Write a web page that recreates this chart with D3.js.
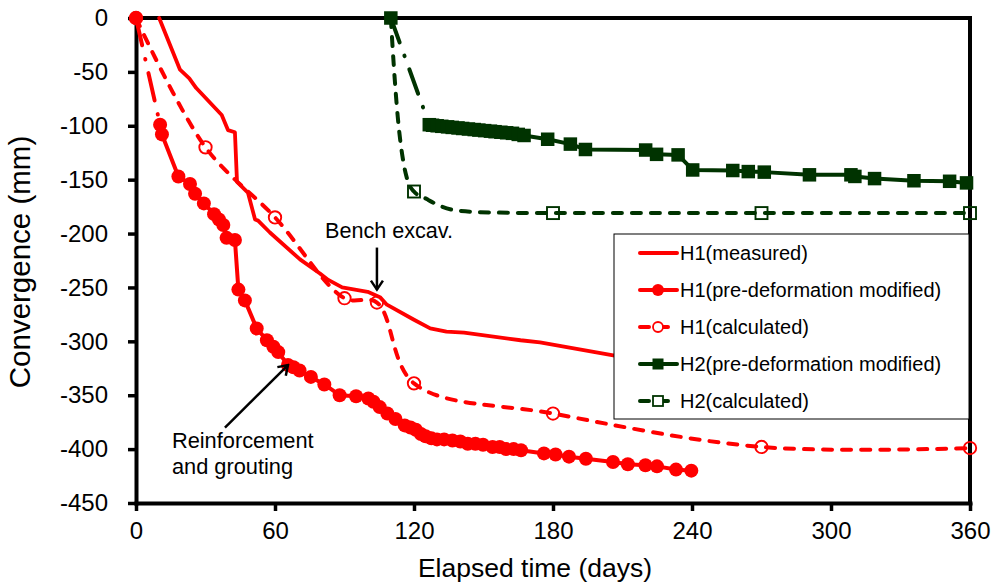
<!doctype html>
<html>
<head>
<meta charset="utf-8">
<script src="https://cdnjs.cloudflare.com/ajax/libs/d3/7.8.5/d3.min.js"></script>
<style>
  body { margin: 0; background: #fff; }
  text { font-family: Arial, "Liberation Sans", sans-serif; }
</style>
</head>
<body>
<svg id="chart" width="995" height="587"></svg>
<script>
// axis ticks
var xTicks = [0, 60, 120, 180, 240, 300, 360];
var yTicks = [0, -50, -100, -150, -200, -250, -300, -350, -400, -450];

// [elapsed day, convergence mm]
var h1Measured = [[10,0],[19,-48],[23,-56],[26,-65],[37,-90],[39.7,-104],[42.7,-106],[43.6,-152],
  [48.3,-162],[51.4,-187],[52.7,-188],[57.8,-199],[70.8,-224],[79.4,-237],[83,-243],[89,-250],
  [100,-254],[105.3,-259],[108.3,-266],[120,-280],[127,-288],[134,-291],[141.6,-292],[166,-299],
  [174.4,-301],[206,-313],[215,-316]];

var h1PreDef = [[0,0],[10.4,-99],[11.2,-108],[18.3,-147],[23.3,-154],[25.5,-163],[29.3,-172],
  [33.7,-182],[35.8,-187],[37.7,-192],[39.1,-204],[42.7,-206],[44.2,-252],[47,-262],[52.1,-288],
  [56.5,-299],[59.3,-305],[61.4,-310],[65.6,-322],[68,-324],[70.6,-327],[75.5,-333],[81.3,-340],
  [87.9,-350],[95,-351],[100.3,-353],[102.5,-356],[105.2,-361],[108.5,-367],[112,-372],[116,-378],
  [118.5,-380],[120.8,-382],[123,-386],[125,-388],[127.5,-390],[129.9,-391],[133,-391],[136.6,-392],
  [140,-393],[143.2,-395],[146.5,-395],[149.8,-396],[153.9,-398],[157,-398],[159.7,-400],[163,-400],
  [166.2,-401],[176.1,-404],[181.1,-405],[186.9,-407],[194.2,-409],[205.9,-412],[212.3,-414],
  [219.9,-415],[224.9,-416],[233.1,-419],[239.7,-420]];

var h1Calc = [[0,0],[30,-120],[60,-185],[90,-260],[104,-264],[120,-339],[180,-367],[270,-398],[360,-399]];

var h2PreDef = [[110,0],[126.6,-99],[128,-99.5],[130,-100],[132,-100.5],[134.5,-101],[136.5,-101.5],
  [139,-102],[141,-102.5],[143.5,-103],[146,-103.5],[148,-104],[150.5,-104.5],[153,-105],[155,-105.5],
  [157.5,-106],[160,-106.5],[162.5,-107],[165,-108],[167.5,-109],[177.7,-112.5],[187.5,-117],
  [194,-122],[220,-122.5],[224.7,-126.5],[234,-127],[240.3,-141],[257.6,-141.5],[264.3,-142.5],
  [271.2,-143],[290.7,-145.5],[308.6,-145.5],[310.3,-147],[318.8,-149],[335.8,-151],[351.2,-151.5],
  [358.5,-153]];

// calculated H2 curve (marker only on h2CalcMarked)
var h2Calc = [[110,0],[111.3,-45],[113,-92],[115.7,-137],[118,-155],[120,-161],[125.5,-168],
  [132,-175],[140,-179],[155,-180.5],[180,-181],[270,-181],[360,-181]];
var h2CalcMarked = [[120,-161],[180,-181],[270,-181],[360,-181]];

var legendNames = ["H1(measured)", "H1(pre-deformation modified)", "H1(calculated)",
  "H2(pre-deformation modified)", "H2(calculated)"];

var red = "#ff0000", green = "#003300";

var svg = d3.select("#chart");
var x = d3.scaleLinear().domain([0, 360]).range([136, 970]);
var y = d3.scaleLinear().domain([-450, 0]).range([503, 18]);

// plot frame (top + right)
svg.append("path")
  .attr("d", "M" + x(0) + "," + y(0) + "H" + x(360) + "V" + y(-450))
  .attr("fill", "none").attr("stroke", "#000").attr("stroke-width", 4)
  .attr("stroke-linecap", "square");

// axes
var gx = svg.append("g")
  .attr("transform", "translate(0," + y(-450) + ")")
  .call(d3.axisBottom(x).tickValues(xTicks).tickSize(8).tickSizeOuter(0).tickPadding(11)
    .tickFormat(function(d) { return String(d); }));
var gy = svg.append("g")
  .attr("transform", "translate(" + x(0) + ",0)")
  .call(d3.axisLeft(y).tickValues(yTicks).tickSize(8).tickSizeOuter(0).tickPadding(20)
    .tickFormat(function(d) { return String(d); }));
[gx, gy].forEach(function(g) {
  g.attr("font-family", "Arial, 'Liberation Sans', sans-serif").attr("font-size", 24);
  g.select(".domain").attr("stroke-width", 4).attr("stroke-linecap", "square");
  g.selectAll(".tick line").attr("stroke-width", 3.5);
  g.selectAll(".tick text").attr("fill", "#000");
});

svg.append("text").attr("x", 535).attr("y", 577).attr("text-anchor", "middle")
  .attr("font-size", 26.5).text("Elapsed time (days)");
svg.append("text").attr("transform", "translate(30,262) rotate(-90)").attr("text-anchor", "middle")
  .attr("font-size", 29.5).text("Convergence (mm)");

var straight = d3.line().x(function(d) { return x(d[0]); }).y(function(d) { return y(d[1]); });
var smooth = d3.line().x(function(d) { return x(d[0]); }).y(function(d) { return y(d[1]); })
  .curve(d3.curveCatmullRom.alpha(0.5));
var smoothMono = d3.line().x(function(d) { return x(d[0]); }).y(function(d) { return y(d[1]); })
  .curve(d3.curveMonotoneX);

function drawLine(data, gen, color, width, dash) {
  svg.append("path").datum(data).attr("d", gen)
    .attr("fill", "none").attr("stroke", color).attr("stroke-width", width)
    .attr("stroke-linejoin", "round").attr("stroke-linecap", "round")
    .attr("stroke-dasharray", dash || null);
}

// lines
drawLine(h1Measured, straight, red, 3.8);
drawLine(h1PreDef.slice(0, 2), straight, red, 4, "28,14,0.5,14");
drawLine(h1PreDef.slice(1), straight, red, 4);
drawLine(h1Calc, smooth, red, 4, "9,10");
drawLine(h2PreDef.slice(0, 2), straight, green, 4, "26,14,0.5,14");
drawLine(h2PreDef.slice(1), straight, green, 4);
drawLine(h2Calc, smoothMono, green, 4, "9,10");

// markers
function circles(data, r, color, filled) {
  svg.append("g").selectAll("circle").data(data).enter().append("circle")
    .attr("cx", function(d) { return x(d[0]); }).attr("cy", function(d) { return y(d[1]); })
    .attr("r", r).attr("fill", filled ? color : "none")
    .attr("stroke", color).attr("stroke-width", filled ? 0 : 1.9);
}
function squares(data, s, color, filled) {
  svg.append("g").selectAll("rect").data(data).enter().append("rect")
    .attr("x", function(d) { return x(d[0]) - s / 2; }).attr("y", function(d) { return y(d[1]) - s / 2; })
    .attr("width", s).attr("height", s).attr("fill", filled ? color : "none")
    .attr("stroke", color).attr("stroke-width", filled ? 0 : 1.9);
}
circles(h1PreDef, 7, red, true);
circles(h1Calc, 6.2, red, false);
squares(h2PreDef, 13.5, green, true);
squares(h2CalcMarked, 12, green, false);

// annotations
svg.append("defs").append("marker").attr("id", "arrow")
  .attr("viewBox", "-12 -8 14 16").attr("refX", 0).attr("refY", 0)
  .attr("markerWidth", 14).attr("markerHeight", 16).attr("markerUnits", "userSpaceOnUse")
  .attr("orient", "auto")
  .append("path").attr("d", "M-9,-6L0,0L-9,6").attr("fill", "none")
  .attr("stroke", "#000").attr("stroke-width", 2.5);

svg.append("line").attr("x1", x(104)).attr("y1", y(-213)).attr("x2", x(104)).attr("y2", y(-252))
  .attr("stroke", "#000").attr("stroke-width", 2.5).attr("marker-end", "url(#arrow)");
svg.append("text").attr("x", x(81.6)).attr("y", y(-204)).attr("font-size", 21.6).text("Bench excav.");

svg.append("line").attr("x1", x(38.4)).attr("y1", y(-380)).attr("x2", x(65.6)).attr("y2", y(-322))
  .attr("stroke", "#000").attr("stroke-width", 2.5).attr("marker-end", "url(#arrow)");
svg.append("text").attr("x", x(15.5)).attr("y", y(-399)).attr("font-size", 21.8).text("Reinforcement");
svg.append("text").attr("x", x(15.5)).attr("y", y(-423)).attr("font-size", 21.8).text("and grouting");

// legend
var lg = svg.append("g");
lg.append("rect").attr("x", 614).attr("y", 234).attr("width", 355).attr("height", 185)
  .attr("fill", "#fff").attr("stroke", "#000").attr("stroke-width", 1);
var rowY = function(i) { return 253 + i * 37; };
var legendStyle = [
  { color: red, dash: null, marker: null },
  { color: red, dash: null, marker: "circle", filled: true },
  { color: red, dash: "9,10", marker: "circle", filled: false },
  { color: green, dash: null, marker: "square", filled: true },
  { color: green, dash: "9,10", marker: "square", filled: false }
];
legendNames.forEach(function(name, i) {
  var st = legendStyle[i], cy = rowY(i);
  lg.append("line").attr("x1", 640).attr("x2", 677).attr("y1", cy).attr("y2", cy)
    .attr("stroke", st.color).attr("stroke-width", 4).attr("stroke-linecap", "round")
    .attr("stroke-dasharray", st.dash);
  if (st.marker === "circle") {
    lg.append("circle").attr("cx", 658).attr("cy", cy).attr("r", st.filled ? 6 : 5)
      .attr("fill", st.filled ? st.color : "#fff").attr("stroke", st.color)
      .attr("stroke-width", st.filled ? 0 : 1.8);
  } else if (st.marker === "square") {
    var s = st.filled ? 11 : 10;
    lg.append("rect").attr("x", 658 - s / 2).attr("y", cy - s / 2).attr("width", s).attr("height", s)
      .attr("fill", st.filled ? st.color : "#fff").attr("stroke", st.color)
      .attr("stroke-width", st.filled ? 0 : 1.8);
  }
  lg.append("text").attr("x", 680).attr("y", cy).attr("dy", "0.36em").attr("font-size", 20).text(name);
});
</script>
</body>
</html>
